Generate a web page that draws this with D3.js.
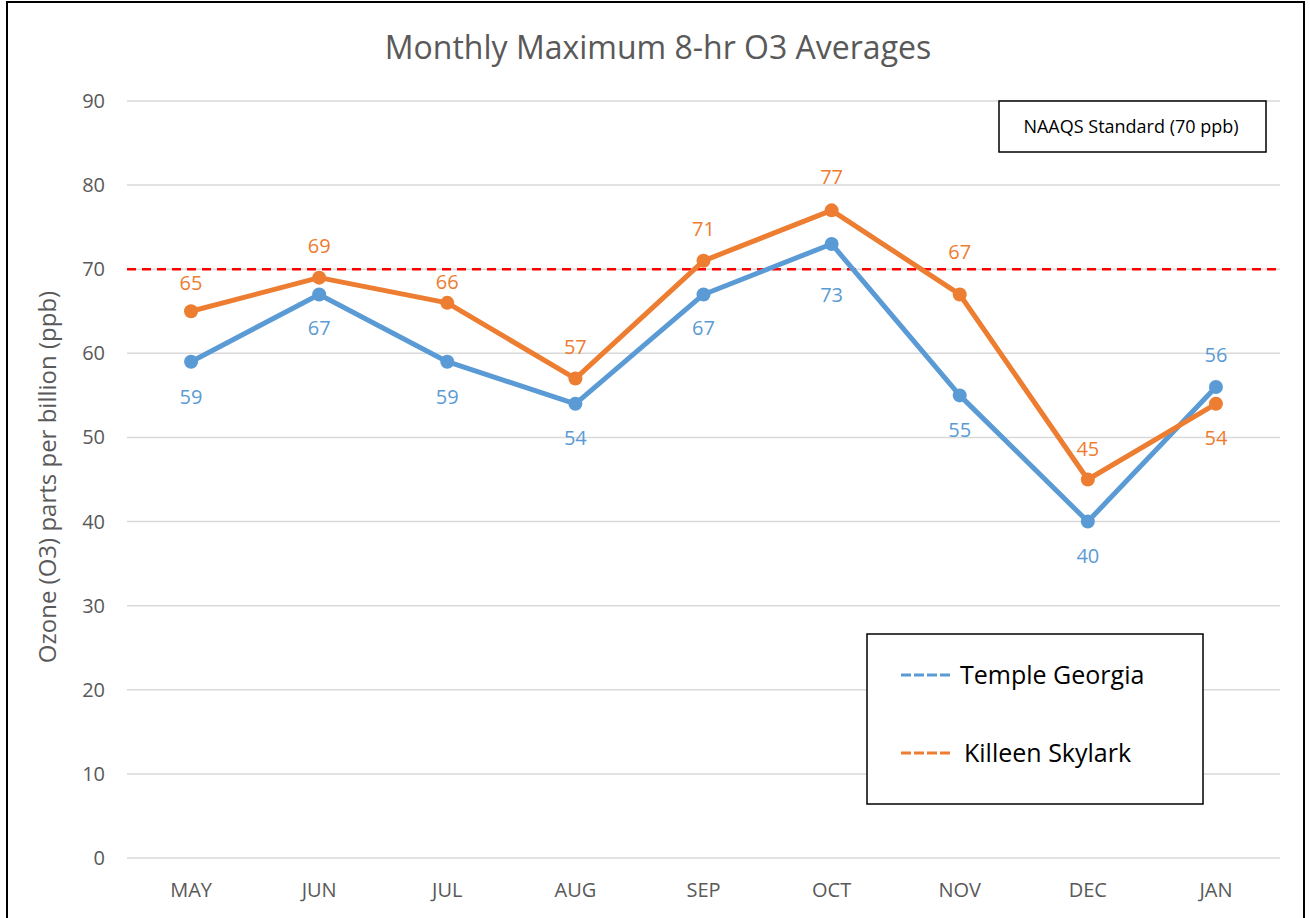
<!DOCTYPE html>
<html>
<head>
<meta charset="utf-8">
<script src="https://cdnjs.cloudflare.com/ajax/libs/d3/7.8.5/d3.min.js"></script>
<style>
  body { margin: 0; background: #fff; }
  text { font-family: "Open Sans", "Noto Sans", sans-serif; }
</style>
</head>
<body>
<div id="chart"></div>
<script>
// Data
const months = ["MAY", "JUN", "JUL", "AUG", "SEP", "OCT", "NOV", "DEC", "JAN"];
const temple = [59, 67, 59, 54, 67, 73, 55, 40, 56];
const killeen = [65, 69, 66, 57, 71, 77, 67, 45, 54];
const yTicks = [0, 10, 20, 30, 40, 50, 60, 70, 80, 90];
const standard = 70;

// data label placement (px from the point, negative = above)
const templeLabelShift = [35, 34, 35, 34, 34, 51, 35, 34, -32];
const killeenLabelShift = [-28, -32, -21, -32, -32, -33, -42, -31, 34];

const width = 1310;
const height = 918;
const plot = { left: 127, right: 1280, top: 101, bottom: 858 };

const svg = d3.select("#chart").append("svg")
    .attr("width", width)
    .attr("height", height);

// outer frame (bottom edge is cut off in the reference)
svg.append("rect")
    .attr("x", 7).attr("y", 2)
    .attr("width", 1297).attr("height", 940)
    .attr("fill", "none")
    .attr("stroke", "#000")
    .attr("stroke-width", 2);

const x = d3.scaleBand().domain(months).range([plot.left, plot.right]);
const y = d3.scaleLinear().domain([0, 90]).range([plot.bottom, plot.top]);

// gridlines
svg.append("g").selectAll("line")
    .data(yTicks)
    .enter().append("line")
    .attr("x1", plot.left).attr("x2", plot.right)
    .attr("y1", d => y(d)).attr("y2", d => y(d))
    .attr("stroke", "#d9d9d9")
    .attr("stroke-width", 1.5);

// y tick labels
svg.append("g").selectAll("text")
    .data(yTicks)
    .enter().append("text")
    .attr("x", 105)
    .attr("y", d => y(d))
    .attr("dy", "0.35em")
    .attr("text-anchor", "end")
    .attr("font-size", 20)
    .attr("fill", "#595959")
    .text(d => d);

// x tick labels
svg.append("g").selectAll("text")
    .data(months)
    .enter().append("text")
    .attr("x", d => x(d) + x.bandwidth() / 2)
    .attr("y", 897)
    .attr("text-anchor", "middle")
    .attr("font-size", 20)
    .attr("fill", "#595959")
    .text(d => d);

// title
svg.append("text")
    .attr("x", 658).attr("y", 59)
    .attr("text-anchor", "middle")
    .attr("font-size", 32)
    .attr("fill", "#595959")
    .text("Monthly Maximum 8-hr O3 Averages");

// y axis title
svg.append("text")
    .attr("transform", "translate(56,477) rotate(-90)")
    .attr("text-anchor", "middle")
    .attr("font-size", 24)
    .attr("fill", "#595959")
    .text("Ozone (O3) parts per billion (ppb)");

// standard line
svg.append("line")
    .attr("x1", plot.left).attr("x2", plot.right)
    .attr("y1", y(standard)).attr("y2", y(standard))
    .attr("stroke", "#ff0000")
    .attr("stroke-width", 2.5)
    .attr("stroke-dasharray", "9,6");

const line = d3.line()
    .x((d, i) => x(months[i]) + x.bandwidth() / 2)
    .y(d => y(d));

function drawSeries(values, color, shifts) {
    svg.append("path")
        .datum(values)
        .attr("d", line)
        .attr("fill", "none")
        .attr("stroke", color)
        .attr("stroke-width", 5)
        .attr("stroke-linejoin", "round");
    svg.append("g").selectAll("circle")
        .data(values)
        .enter().append("circle")
        .attr("cx", (d, i) => x(months[i]) + x.bandwidth() / 2)
        .attr("cy", d => y(d))
        .attr("r", 7)
        .attr("fill", color);
    svg.append("g").selectAll("text")
        .data(values)
        .enter().append("text")
        .attr("x", (d, i) => x(months[i]) + x.bandwidth() / 2)
        .attr("y", (d, i) => y(d) + shifts[i])
        .attr("dy", "0.35em")
        .attr("text-anchor", "middle")
        .attr("font-size", 20)
        .attr("fill", color)
        .text(d => d);
}

drawSeries(temple, "#5b9bd5", templeLabelShift);
drawSeries(killeen, "#ed7d31", killeenLabelShift);

// NAAQS box
svg.append("rect")
    .attr("x", 999).attr("y", 101)
    .attr("width", 267).attr("height", 51)
    .attr("fill", "#fff")
    .attr("stroke", "#000")
    .attr("stroke-width", 1.5);
svg.append("text")
    .attr("x", 1131).attr("y", 133)
    .attr("text-anchor", "middle")
    .attr("font-size", 18)
    .attr("fill", "#000")
    .text("NAAQS Standard (70 ppb)");

// legend
const legend = svg.append("g");
legend.append("rect")
    .attr("x", 867).attr("y", 634)
    .attr("width", 336).attr("height", 170)
    .attr("fill", "#fff")
    .attr("stroke", "#000")
    .attr("stroke-width", 1.5);
const legendItems = [
    { name: "Temple Georgia", color: "#5b9bd5", y: 675, tx: 960 },
    { name: "Killeen Skylark", color: "#ed7d31", y: 753, tx: 964 }
];
legendItems.forEach(it => {
    legend.append("line")
        .attr("x1", 901).attr("x2", 951)
        .attr("y1", it.y).attr("y2", it.y)
        .attr("stroke", it.color)
        .attr("stroke-width", 3)
        .attr("stroke-dasharray", "10,3");
    legend.append("text")
        .attr("x", it.tx).attr("y", it.y)
        .attr("dy", "0.35em")
        .attr("font-size", 25)
        .attr("fill", "#000")
        .text(it.name);
});
</script>
</body>
</html>
